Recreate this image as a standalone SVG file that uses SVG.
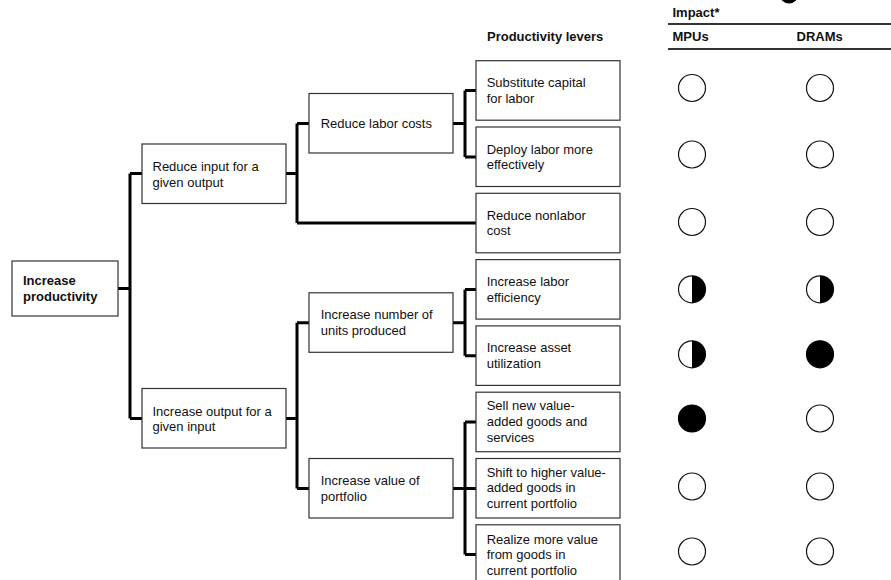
<svg xmlns="http://www.w3.org/2000/svg" width="891" height="580" viewBox="0 0 891 580">
<style>
.box{fill:#fff;stroke:#333;stroke-width:1.2}
.t{font-family:"Liberation Sans",Arial,sans-serif;font-size:13px;fill:#111}
.b{font-weight:bold}
.con{fill:none;stroke:#000;stroke-width:3;stroke-linejoin:miter;stroke-linecap:butt}
.rule{stroke:#333;stroke-width:2}
.c{fill:#fff;stroke:#111;stroke-width:1.2}
.f{fill:#000;stroke:#000;stroke-width:1.2}
</style>
<defs>
<g id="empty"><circle class="c" r="13.5"/></g>
<g id="half"><circle class="c" r="13.5"/><path d="M0,-13.5 A13.5,13.5 0 0 1 0,13.5 Z" fill="#000"/></g>
<g id="full"><circle class="f" r="13.5"/></g>
</defs>
<rect width="891" height="580" fill="#fff"/>

<g id="header">
<circle cx="789" cy="-6" r="9.5" fill="#000"/>
<text class="t b" x="672.5" y="17">Impact*</text>
<line class="rule" x1="668" y1="24" x2="891" y2="24"/>
<text class="t b" x="487" y="41">Productivity levers</text>
<text class="t b" x="672.5" y="41">MPUs</text>
<text class="t b" x="796.5" y="41">DRAMs</text>
<line class="rule" x1="668" y1="49" x2="891" y2="49"/>
</g>

<g id="connectors">
<path class="con" d="M118,288.5 H130 M130,173.5 V418.5 M130,173.5 H142 M130,418.5 H142"/>
<path class="con" d="M286,173.5 H297 M297,123.5 V223 M297,123.5 H309 M297,223 H476"/>
<path class="con" d="M453,123.5 H465 M465,90.5 V157 M465,90.5 H476 M465,157 H476"/>
<path class="con" d="M286,418.5 H297 M297,322.7 V488.5 M297,322.7 H309 M297,488.5 H309"/>
<path class="con" d="M453,322.7 H465 M465,289.4 V355.7 M465,289.4 H476 M465,355.7 H476"/>
<path class="con" d="M453,488.5 H476 M465,422 V554.6 M465,422 H476 M465,554.6 H476"/>
</g>

<g id="n-root"><rect class="box" x="12" y="261" width="106" height="55"/>
<text class="t b" x="23" y="285">Increase</text><text class="t b" x="23" y="300.7">productivity</text></g>

<g id="n-reduce-input"><rect class="box" x="142" y="144" width="144" height="59.5"/>
<text class="t" x="152.5" y="170.7">Reduce input for a</text><text class="t" x="152.5" y="186.5">given output</text></g>

<g id="n-increase-output"><rect class="box" x="142" y="388.5" width="144" height="59.5"/>
<text class="t" x="152.5" y="415.5">Increase output for a</text><text class="t" x="152.5" y="431.3">given input</text></g>

<g id="n-reduce-labor"><rect class="box" x="309" y="93.5" width="144" height="59.5"/>
<text class="t" x="320.7" y="128.3">Reduce labor costs</text></g>

<g id="n-increase-units"><rect class="box" x="309" y="292.8" width="144" height="59.5"/>
<text class="t" x="320.7" y="319.3">Increase number of</text><text class="t" x="320.7" y="335">units produced</text></g>

<g id="n-increase-value"><rect class="box" x="309" y="458.5" width="144" height="59.5"/>
<text class="t" x="320.7" y="485">Increase value of</text><text class="t" x="320.7" y="500.8">portfolio</text></g>

<g id="n-substitute"><rect class="box" x="476" y="60.7" width="144" height="59.5"/>
<text class="t" x="486.7" y="87.3">Substitute capital</text><text class="t" x="486.7" y="103">for labor</text></g>

<g id="n-deploy"><rect class="box" x="476" y="127" width="144" height="59.5"/>
<text class="t" x="486.7" y="153.5">Deploy labor more</text><text class="t" x="486.7" y="169.2">effectively</text></g>

<g id="n-nonlabor"><rect class="box" x="476" y="193.3" width="144" height="59.5"/>
<text class="t" x="486.7" y="219.6">Reduce nonlabor</text><text class="t" x="486.7" y="235.3">cost</text></g>

<g id="n-labor-eff"><rect class="box" x="476" y="259.6" width="144" height="59.5"/>
<text class="t" x="486.7" y="286">Increase labor</text><text class="t" x="486.7" y="301.7">efficiency</text></g>

<g id="n-asset"><rect class="box" x="476" y="325.9" width="144" height="59.5"/>
<text class="t" x="486.7" y="352.3">Increase asset</text><text class="t" x="486.7" y="368">utilization</text></g>

<g id="n-sell"><rect class="box" x="476" y="392.2" width="144" height="59.5"/>
<text class="t" x="486.7" y="410.3">Sell new value-</text><text class="t" x="486.7" y="426">added goods and</text><text class="t" x="486.7" y="441.7">services</text></g>

<g id="n-shift"><rect class="box" x="476" y="458.5" width="144" height="59.5"/>
<text class="t" x="486.7" y="476.6">Shift to higher value-</text><text class="t" x="486.7" y="492.3">added goods in</text><text class="t" x="486.7" y="508">current portfolio</text></g>

<g id="n-realize"><rect class="box" x="476" y="524.8" width="144" height="59.5"/>
<text class="t" x="486.7" y="543.5">Realize more value</text><text class="t" x="486.7" y="559.2">from goods in</text><text class="t" x="486.7" y="574.9">current portfolio</text></g>

<g id="impact">
<use href="#empty" x="692" y="88"/><use href="#empty" x="820" y="88"/>
<use href="#empty" x="692" y="154.5"/><use href="#empty" x="820" y="154.5"/>
<use href="#empty" x="692" y="222"/><use href="#empty" x="820" y="222"/>
<use href="#half" x="692" y="289.3"/><use href="#half" x="820" y="289.3"/>
<use href="#half" x="692" y="354.3"/><use href="#full" x="820" y="354.3"/>
<use href="#full" x="692" y="418.5"/><use href="#empty" x="820" y="418.5"/>
<use href="#empty" x="692" y="486.5"/><use href="#empty" x="820" y="486.5"/>
<use href="#empty" x="692" y="551.5"/><use href="#empty" x="820" y="551.5"/>
</g>
</svg>
